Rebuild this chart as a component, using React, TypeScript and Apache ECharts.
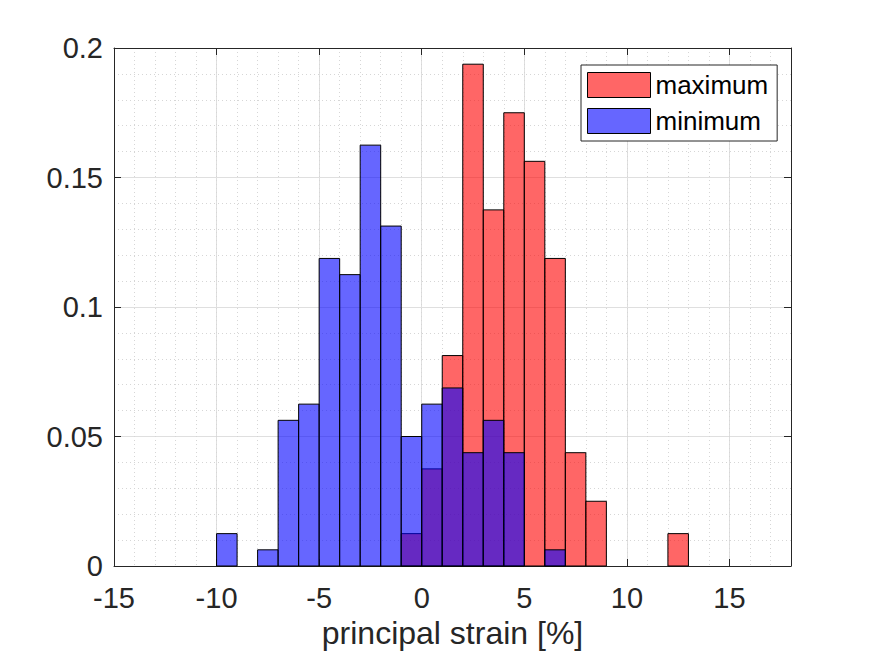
import React, { useEffect, useRef } from "react";
import * as echarts from "echarts";

// Histogram bins (left edges, bin width 1) and probabilities
const binWidth = 1;
const maxBinStarts = [-1, 0, 1, 2, 3, 4, 5, 6, 7, 8, 12];
const maxValues = [0.0125, 0.0375, 0.08125, 0.19375, 0.1375, 0.175, 0.15625, 0.11875, 0.04375, 0.025, 0.0125];
const minBinStarts = [-10, -8, -7, -6, -5, -4, -3, -2, -1, 0, 1, 2, 3, 4, 6];
const minValues = [0.0125, 0.00625, 0.05625, 0.0625, 0.11875, 0.1125, 0.1625, 0.13125, 0.05, 0.0625, 0.06875, 0.04375, 0.05625, 0.04375, 0.00625];

const seriesNames = ["maximum", "minimum"];
const xName = "principal strain [%]";

const FONT = "'Liberation Sans', Arial, Helvetica, sans-serif";
const AX = "#262626";
const RED = "rgba(255,0,0,0.6)";
const BLUE = "rgba(0,0,255,0.6)";

function makeData(starts: number[], vals: number[]) {
  return starts.map((s, i) => [s, s + binWidth, vals[i]]);
}

function renderBars(color: string) {
  return (params: any, api: any) => {
    const x0 = api.value(0);
    const x1 = api.value(1);
    const y = api.value(2);
    const p0 = api.coord([x0, y]);
    const p1 = api.coord([x1, 0]);
    return {
      type: "rect",
      shape: { x: p0[0], y: p0[1], width: p1[0] - p0[0], height: p1[1] - p0[1] },
      style: { fill: color, stroke: "#000", lineWidth: 1 },
    };
  };
}

export default function App() {
  const ref = useRef<HTMLDivElement>(null);
  useEffect(() => {
    document.body.style.margin = "0";
    const chart = echarts.init(ref.current!, null, { renderer: "svg" });
    const tickLine = { lineStyle: { color: AX, width: 1 } };
    chart.setOption({
      animation: false,
      backgroundColor: "#fff",
      textStyle: { fontFamily: FONT },
      grid: { left: 114, right: 84, top: 48, bottom: 90, containLabel: false },
      legend: {
        orient: "vertical",
        left: 581,
        top: 65,
        padding: [7, 9, 7, 6],
        itemWidth: 63,
        itemHeight: 25,
        itemGap: 10,
        itemTextGap: 6,
        backgroundColor: "#fff",
        borderColor: AX,
        borderWidth: 1,
        borderRadius: 0,
        icon: "rect",
        textStyle: { fontSize: 26, color: "#000", fontFamily: FONT },
        data: [
          { name: seriesNames[0], itemStyle: { color: RED, borderColor: "#000", borderWidth: 1 } },
          { name: seriesNames[1], itemStyle: { color: BLUE, borderColor: "#000", borderWidth: 1 } },
        ],
      },
      xAxis: [
        {
          type: "value",
          min: -15,
          max: 18,
          interval: 5,
          position: "bottom",
          axisLine: { show: true, onZero: false, ...tickLine },
          axisTick: { show: true, inside: true, length: 7, ...tickLine },
          axisLabel: { fontSize: 29, color: AX, margin: 17, showMaxLabel: false, fontFamily: FONT },
          splitLine: { show: true, lineStyle: { color: "#dfdfdf", width: 1 } },
          name: xName,
          nameLocation: "middle",
          nameGap: 42,
          nameTextStyle: { fontSize: 32, color: AX, fontFamily: FONT },
        },
        {
          type: "value",
          min: -15,
          max: 18,
          interval: 5,
          position: "top",
          axisLine: { show: true, onZero: false, ...tickLine },
          axisTick: { show: true, inside: true, length: 7, ...tickLine },
          axisLabel: { show: false },
          splitLine: { show: false },
        },
        {
          type: "value",
          min: -15,
          max: 18,
          interval: 1,
          position: "bottom",
          axisLine: { show: false },
          axisTick: { show: false },
          axisLabel: { show: false },
          splitLine: { show: true, lineStyle: { color: "#d6d6d6", width: 1, type: [1, 3] } },
        },
      ],
      yAxis: [
        {
          type: "value",
          min: 0,
          max: 0.2,
          interval: 0.05,
          position: "left",
          axisLine: { show: true, onZero: false, ...tickLine },
          axisTick: { show: true, inside: true, length: 7, ...tickLine },
          axisLabel: { fontSize: 29, color: AX, margin: 11, fontFamily: FONT },
          splitLine: { show: true, lineStyle: { color: "#dfdfdf", width: 1 } },
          minorTick: { show: false, splitNumber: 5 },
          minorSplitLine: { show: true, lineStyle: { color: "#d6d6d6", width: 1, type: [1, 3] } },
        },
        {
          type: "value",
          min: 0,
          max: 0.2,
          interval: 0.05,
          position: "right",
          axisLine: { show: true, onZero: false, ...tickLine },
          axisTick: { show: true, inside: true, length: 7, ...tickLine },
          axisLabel: { show: false },
          splitLine: { show: false },
        },
      ],
      series: [
        {
          name: seriesNames[0],
          type: "custom",
          xAxisIndex: 0,
          yAxisIndex: 0,
          itemStyle: { color: RED, borderColor: "#000", borderWidth: 1 },
          encode: { x: [0, 1], y: 2 },
          renderItem: renderBars(RED),
          data: makeData(maxBinStarts, maxValues),
          z: 2,
        },
        {
          name: seriesNames[1],
          type: "custom",
          xAxisIndex: 0,
          yAxisIndex: 0,
          itemStyle: { color: BLUE, borderColor: "#000", borderWidth: 1 },
          encode: { x: [0, 1], y: 2 },
          renderItem: renderBars(BLUE),
          data: makeData(minBinStarts, minValues),
          z: 3,
        },
      ],
    });
    return () => chart.dispose();
  }, []);
  return <div ref={ref} style={{ width: 875, height: 656 }} />;
}
